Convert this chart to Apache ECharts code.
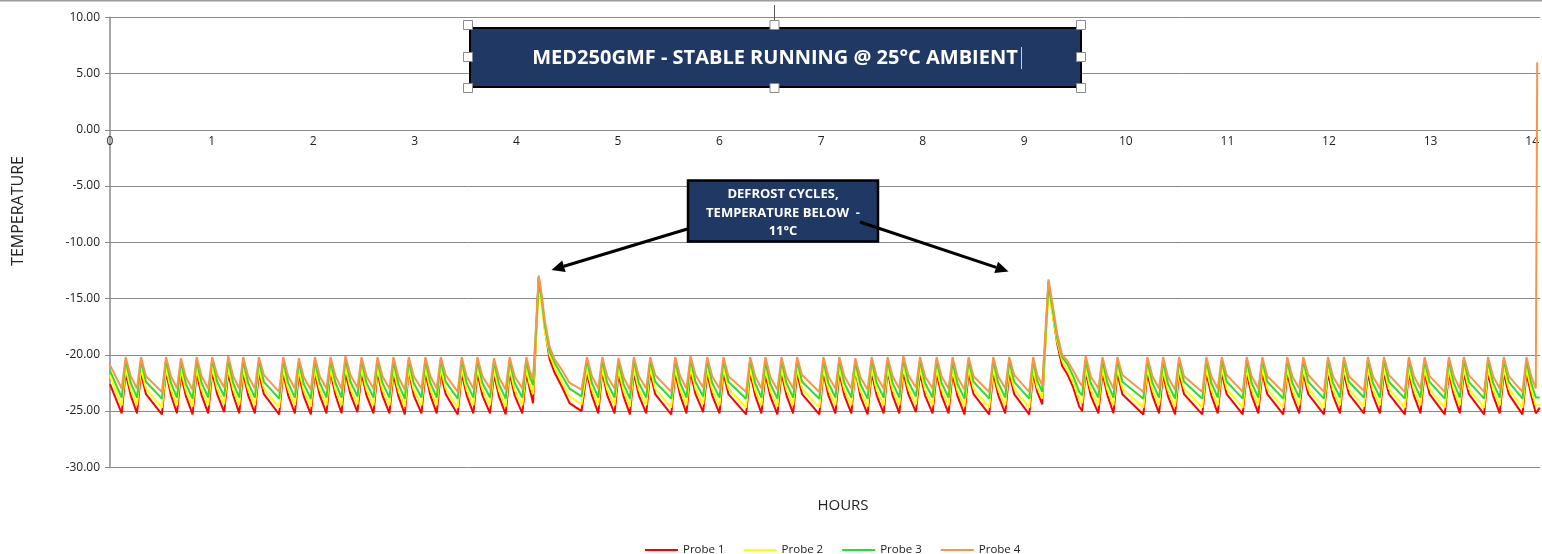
<!DOCTYPE html>
<html>
<head>
<meta charset="utf-8">
<script src="https://cdn.jsdelivr.net/npm/echarts@6/dist/echarts.min.js"></script>
<style>
html,body{margin:0;padding:0;background:#fff;}
#chart{width:1542px;height:554px;}
</style>
</head>
<body>
<div id="chart"></div>
<script>
// ---- DATA (hours and temperatures) ----
const seriesNames = ['Probe 1', 'Probe 2', 'Probe 3', 'Probe 4'];
const xTickLabels = [0,1,2,3,4,5,6,7,8,9,10,11,12,13,14];

const hours = [
0.000, 0.115,
0.154, 0.204, 0.266,
0.305, 0.354, 0.511,
0.551, 0.600, 0.659,
0.698, 0.748, 0.813,
0.853, 0.902, 0.967,
1.006, 1.055, 1.124,
1.164, 1.213, 1.272,
1.311, 1.360, 1.426,
1.466, 1.515, 1.665,
1.705, 1.754, 1.820,
1.859, 1.908, 1.977,
2.016, 2.065, 2.131,
2.171, 2.220, 2.279,
2.318, 2.367, 2.436,
2.476, 2.525, 2.594,
2.633, 2.682, 2.751,
2.790, 2.840, 2.902,
2.941, 2.990, 3.066,
3.105, 3.154, 3.216,
3.256, 3.305, 3.423,
3.462, 3.511, 3.577,
3.617, 3.666, 3.741,
3.780, 3.829, 3.895,
3.934, 3.983, 4.059,
4.099, 4.131, 4.165,
4.220, 4.249, 4.279, 4.328, 4.377, 4.446, 4.524, 4.642,
4.695, 4.744, 4.807,
4.846, 4.895, 4.967,
5.006, 5.056, 5.118,
5.157, 5.206, 5.279,
5.318, 5.367, 5.525,
5.564, 5.613, 5.675,
5.715, 5.764, 5.839,
5.879, 5.928, 6.000,
6.039, 6.088, 6.262,
6.302, 6.351, 6.413,
6.452, 6.501, 6.570,
6.610, 6.659, 6.725,
6.764, 6.813, 6.983,
7.023, 7.072, 7.141,
7.180, 7.229, 7.298,
7.337, 7.387, 7.458,
7.498, 7.547, 7.616,
7.655, 7.704, 7.770,
7.810, 7.859, 7.934,
7.974, 8.023, 8.098,
8.137, 8.186, 8.255,
8.294, 8.344, 8.412,
8.452, 8.501, 8.655,
8.695, 8.744, 8.813,
8.852, 8.901, 9.049,
9.088, 9.128, 9.177,
9.239, 9.275, 9.324, 9.373, 9.423, 9.482, 9.541, 9.570,
9.605, 9.654, 9.730,
9.770, 9.819, 9.878,
9.917, 9.966, 10.173,
10.212, 10.262, 10.327,
10.367, 10.416, 10.485,
10.524, 10.573, 10.753,
10.793, 10.842, 10.905,
10.944, 10.993, 11.151,
11.190, 11.239, 11.304,
11.344, 11.393, 11.550,
11.589, 11.639, 11.707,
11.747, 11.796, 11.950,
11.990, 12.039, 12.108,
12.147, 12.196, 12.344,
12.383, 12.432, 12.501,
12.541, 12.590, 12.747,
12.786, 12.836, 12.901,
12.941, 12.990, 13.140,
13.180, 13.229, 13.288,
13.327, 13.377, 13.527,
13.566, 13.616, 13.681,
13.721, 13.770, 13.905,
13.944, 13.991, 14.036, 14.050, 14.075
];

const probe1 = [
-22.6, -25.2,
-21.6, -23.6, -25.2,
-21.6, -23.5, -25.3,
-21.5, -23.6, -25.2,
-21.7, -23.7, -25.3,
-21.6, -23.6, -25.2,
-21.5, -23.5, -25.1,
-21.6, -23.6, -25.2,
-21.6, -23.6, -25.2,
-21.6, -23.5, -25.3,
-21.6, -23.6, -25.2,
-21.7, -23.7, -25.3,
-21.6, -23.6, -25.2,
-21.5, -23.6, -25.2,
-21.6, -23.5, -25.1,
-21.6, -23.6, -25.2,
-21.5, -23.6, -25.2,
-21.7, -23.7, -25.3,
-21.4, -23.6, -25.2,
-21.6, -23.6, -25.2,
-21.6, -23.5, -25.3,
-21.6, -23.6, -25.2,
-21.6, -23.6, -25.2,
-21.7, -23.7, -25.3,
-21.6, -23.6, -25.2,
-21.6, -23.0, -24.3,
-13.1, -15.0, -17.6, -20.4, -21.6, -22.8, -24.3, -25.0,
-21.6, -23.6, -25.2,
-21.5, -23.6, -25.2,
-21.7, -23.7, -25.3,
-21.6, -23.6, -25.2,
-21.6, -23.5, -25.3,
-21.6, -23.6, -25.2,
-21.5, -23.5, -25.1,
-21.6, -23.6, -25.2,
-21.6, -23.5, -25.3,
-21.6, -23.6, -25.2,
-21.7, -23.7, -25.3,
-21.6, -23.6, -25.2,
-21.6, -23.5, -25.3,
-21.6, -23.6, -25.2,
-21.6, -23.6, -25.2,
-21.3, -23.7, -25.3,
-21.6, -23.6, -25.2,
-21.4, -23.6, -25.2,
-21.5, -23.5, -25.1,
-21.6, -23.6, -25.2,
-21.6, -23.6, -25.2,
-21.7, -23.7, -25.3,
-21.6, -23.5, -25.3,
-21.6, -23.6, -25.2,
-21.6, -23.5, -25.3,
-21.6, -23.3, -24.4,
-13.5, -16.0, -19.0, -21.0, -21.7, -22.9, -24.6, -25.0,
-21.5, -23.6, -25.2,
-21.6, -23.6, -25.2,
-21.6, -23.5, -25.3,
-21.6, -23.6, -25.2,
-21.7, -23.7, -25.3,
-21.6, -23.5, -25.3,
-21.6, -23.6, -25.2,
-21.6, -23.5, -25.3,
-21.6, -23.6, -25.2,
-21.6, -23.5, -25.3,
-21.6, -23.6, -25.2,
-21.6, -23.5, -25.3,
-21.6, -23.6, -25.2,
-21.6, -23.5, -25.2,
-21.6, -23.6, -25.2,
-21.6, -23.5, -25.3,
-21.6, -23.6, -25.2,
-21.6, -23.5, -25.3,
-21.6, -23.6, -25.2,
-21.6, -23.5, -25.3,
-21.6, -23.6, -25.2,
-21.6, -23.5, -25.3,
-21.6, -23.6, -25.2, -25.2, -24.7
];

const probe2 = [
-21.8, -24.5,
-21.2, -23.1, -24.5,
-21.2, -23.0, -24.7,
-21.2, -23.1, -24.5,
-21.3, -23.2, -24.6,
-21.2, -23.1, -24.5,
-21.1, -23.0, -24.4,
-21.2, -23.1, -24.5,
-21.2, -23.1, -24.5,
-21.2, -23.0, -24.7,
-21.2, -23.1, -24.5,
-21.3, -23.2, -24.6,
-21.2, -23.1, -24.5,
-21.2, -23.1, -24.5,
-21.1, -23.0, -24.4,
-21.2, -23.1, -24.5,
-21.2, -23.1, -24.5,
-21.3, -23.2, -24.6,
-21.2, -23.1, -24.5,
-21.2, -23.1, -24.5,
-21.2, -23.0, -24.7,
-21.2, -23.1, -24.5,
-21.2, -23.1, -24.5,
-21.3, -23.2, -24.6,
-21.2, -23.1, -24.5,
-21.2, -22.6, -23.5,
-14.1, -15.5, -17.8, -20.0, -21.1, -22.3, -23.7, -24.4,
-21.2, -23.1, -24.5,
-21.2, -23.1, -24.5,
-21.3, -23.2, -24.6,
-21.2, -23.1, -24.5,
-21.2, -23.0, -24.7,
-21.2, -23.1, -24.5,
-21.1, -23.0, -24.4,
-21.2, -23.1, -24.5,
-21.2, -23.0, -24.7,
-21.2, -23.1, -24.5,
-21.3, -23.2, -24.6,
-21.2, -23.1, -24.5,
-21.2, -23.0, -24.7,
-21.2, -23.1, -24.5,
-21.2, -23.1, -24.5,
-21.3, -23.2, -24.6,
-21.2, -23.1, -24.5,
-21.2, -23.1, -24.5,
-21.1, -23.0, -24.4,
-21.2, -23.1, -24.5,
-21.2, -23.1, -24.5,
-21.3, -23.2, -24.6,
-21.2, -23.0, -24.7,
-21.2, -23.1, -24.5,
-21.2, -23.0, -24.7,
-21.2, -22.9, -23.9,
-14.5, -16.2, -18.8, -20.5, -21.3, -22.4, -23.9, -24.3,
-21.2, -23.1, -24.5,
-21.2, -23.1, -24.5,
-21.2, -23.0, -24.7,
-21.2, -23.1, -24.5,
-21.3, -23.2, -24.6,
-21.2, -23.0, -24.7,
-21.2, -23.1, -24.5,
-21.2, -23.0, -24.7,
-21.2, -23.1, -24.5,
-21.2, -23.0, -24.7,
-21.2, -23.1, -24.5,
-21.2, -23.0, -24.7,
-21.2, -23.1, -24.5,
-21.2, -23.0, -24.6,
-21.2, -23.1, -24.5,
-21.2, -23.0, -24.7,
-21.2, -23.1, -24.5,
-21.2, -23.0, -24.7,
-21.2, -23.1, -24.5,
-21.2, -23.0, -24.7,
-21.2, -23.1, -24.5,
-21.2, -23.0, -24.7,
-21.2, -23.1, -24.5, -24.6, -24.4
];

const probe3 = [
-21.4, -23.8,
-20.5, -22.5, -23.8,
-20.5, -22.4, -23.9,
-20.5, -22.5, -23.8,
-20.6, -22.6, -23.9,
-20.5, -22.5, -23.8,
-20.4, -22.4, -23.7,
-20.5, -22.5, -23.8,
-20.5, -22.5, -23.8,
-20.5, -22.4, -23.9,
-20.5, -22.5, -23.8,
-20.6, -22.6, -23.9,
-20.5, -22.5, -23.8,
-20.5, -22.5, -23.8,
-20.4, -22.4, -23.7,
-20.5, -22.5, -23.8,
-20.5, -22.5, -23.8,
-20.6, -22.6, -23.9,
-20.5, -22.5, -23.8,
-20.5, -22.5, -23.8,
-20.5, -22.4, -23.9,
-20.5, -22.5, -23.8,
-20.5, -22.5, -23.8,
-20.6, -22.6, -23.9,
-20.5, -22.5, -23.8,
-20.5, -21.9, -22.7,
-13.5, -15.0, -17.3, -19.7, -20.7, -21.8, -23.0, -23.7,
-20.5, -22.5, -23.8,
-20.5, -22.5, -23.8,
-20.6, -22.6, -23.9,
-20.5, -22.5, -23.8,
-20.5, -22.4, -23.9,
-20.5, -22.5, -23.8,
-20.4, -22.4, -23.7,
-20.5, -22.5, -23.8,
-20.5, -22.4, -23.9,
-20.5, -22.5, -23.8,
-20.6, -22.6, -23.9,
-20.5, -22.5, -23.8,
-20.5, -22.4, -23.9,
-20.5, -22.5, -23.8,
-20.5, -22.5, -23.8,
-20.6, -22.6, -23.9,
-20.5, -22.5, -23.8,
-20.5, -22.5, -23.8,
-20.4, -22.4, -23.7,
-20.5, -22.5, -23.8,
-20.5, -22.5, -23.8,
-20.6, -22.6, -23.9,
-20.5, -22.4, -23.9,
-20.5, -22.5, -23.8,
-20.5, -22.4, -23.9,
-20.5, -22.3, -23.3,
-13.8, -15.7, -18.5, -20.2, -20.8, -21.9, -23.3, -23.6,
-20.5, -22.5, -23.8,
-20.5, -22.5, -23.8,
-20.5, -22.4, -23.9,
-20.5, -22.5, -23.8,
-20.6, -22.6, -23.9,
-20.5, -22.4, -23.9,
-20.5, -22.5, -23.8,
-20.5, -22.4, -23.9,
-20.5, -22.5, -23.8,
-20.5, -22.4, -23.9,
-20.5, -22.5, -23.8,
-20.5, -22.4, -23.9,
-20.5, -22.5, -23.8,
-20.5, -22.4, -23.8,
-20.5, -22.5, -23.8,
-20.5, -22.4, -23.9,
-20.5, -22.5, -23.8,
-20.5, -22.4, -23.9,
-20.5, -22.5, -23.8,
-20.5, -22.4, -23.9,
-20.5, -22.5, -23.8,
-20.5, -22.4, -23.9,
-20.5, -22.5, -23.8, -23.9, -23.8
];

const probe4 = [
-20.9, -23.0,
-20.2, -21.9, -23.0,
-20.2, -21.9, -23.3,
-20.2, -21.9, -23.0,
-20.3, -22.0, -23.1,
-20.2, -21.9, -23.0,
-20.2, -21.8, -22.9,
-20.1, -21.9, -23.0,
-20.2, -21.9, -23.0,
-20.2, -21.8, -23.3,
-20.2, -21.9, -23.0,
-20.3, -22.0, -23.1,
-20.2, -21.9, -23.0,
-20.2, -21.9, -23.0,
-20.1, -21.8, -22.9,
-20.2, -21.9, -23.0,
-20.2, -21.9, -23.0,
-20.2, -22.0, -23.1,
-20.2, -21.9, -23.0,
-20.2, -21.9, -23.0,
-20.2, -21.8, -23.3,
-20.2, -21.9, -23.0,
-20.2, -21.9, -23.0,
-20.3, -22.0, -23.1,
-20.2, -21.9, -23.0,
-20.2, -21.4, -22.2,
-12.95, -14.6, -16.9, -19.3, -20.4, -21.3, -22.5, -23.1,
-20.2, -21.9, -23.0,
-20.2, -21.9, -23.0,
-20.3, -22.0, -23.1,
-20.2, -21.9, -23.0,
-20.2, -21.8, -23.3,
-20.2, -21.9, -23.0,
-20.1, -21.8, -22.9,
-20.2, -21.9, -23.0,
-20.2, -21.9, -23.3,
-20.2, -21.9, -23.0,
-20.2, -22.0, -23.1,
-20.2, -21.9, -23.0,
-20.2, -21.8, -23.3,
-20.2, -21.9, -23.0,
-20.2, -21.9, -23.0,
-20.3, -22.0, -23.1,
-20.2, -21.9, -23.0,
-20.2, -21.9, -23.0,
-20.1, -21.8, -22.9,
-20.2, -21.9, -23.0,
-20.2, -21.9, -23.0,
-20.2, -22.0, -23.1,
-20.2, -21.9, -23.3,
-20.2, -21.9, -23.0,
-20.2, -21.8, -23.3,
-20.2, -21.8, -22.7,
-13.3, -15.3, -18.1, -20.0, -20.5, -21.4, -22.4, -22.8,
-20.1, -21.9, -23.0,
-20.2, -21.9, -23.0,
-20.2, -21.8, -23.3,
-20.2, -21.9, -23.0,
-20.2, -22.0, -23.1,
-20.2, -21.9, -23.3,
-20.2, -21.9, -23.0,
-20.2, -21.8, -23.3,
-20.2, -21.9, -23.0,
-20.2, -21.9, -23.3,
-20.2, -21.9, -23.0,
-20.2, -21.8, -23.3,
-20.2, -21.9, -23.0,
-20.2, -21.9, -23.2,
-20.2, -21.9, -23.0,
-20.2, -21.8, -23.3,
-20.2, -21.9, -23.0,
-20.2, -21.9, -23.3,
-20.2, -21.9, -23.0,
-20.2, -21.8, -23.3,
-20.2, -21.9, -23.0,
-20.2, -21.9, -23.3,
-20.2, -21.9, -23.0, 6.0, null
];

const seriesValues = [probe1, probe2, probe3, probe4];
const seriesColors = ['#ff0000', '#ffff00', '#2edc2e', '#f79646'];

// ---- CHART ----
const FONT = '"Open Sans", "Noto Sans", sans-serif';
const chart = echarts.init(document.getElementById('chart'), null, {renderer: 'canvas'});

const GRID_TOP = 17.3, GRID_BOTTOM = 86.7, CHART_H = 554;
const Y_MIN = -30, Y_MAX = 10;
// distance from the bottom of the plot up to the 0 line (x axis crosses at 0)
const plotH = CHART_H - GRID_TOP - GRID_BOTTOM;
const zeroOffset = -plotH * (0 - Y_MIN) / (Y_MAX - Y_MIN);

function pairs(vals) {
  const out = [];
  for (let i = 0; i < hours.length; i++) {
    if (vals[i] !== null && vals[i] !== undefined) out.push([hours[i], vals[i]]);
  }
  return out;
}

// Annotation arrows (pixel geometry of the drawn callout)
function arrow(x1, y1, x2, y2, len, half, z) {
  const dx = x2 - x1, dy = y2 - y1, L = Math.hypot(dx, dy);
  const ux = dx / L, uy = dy / L;
  const bx = x2 - ux * len, by = y2 - uy * len;
  const px = -uy, py = ux;
  return [
    {type: 'line', shape: {x1: x1, y1: y1, x2: bx, y2: by}, style: {stroke: '#000', lineWidth: 3}, z: z},
    {type: 'polygon', shape: {points: [[x2, y2], [bx + px * half, by + py * half], [bx - px * half, by - py * half]]}, style: {fill: '#000'}, z: z}
  ];
}

const handlePts = [[468,25],[774.5,25],[1081,25],[468,57],[1081,57],[468,88],[774.5,88],[1081,88]];
const handles = handlePts.map(p => ({
  type: 'rect', shape: {x: p[0] - 4.5, y: p[1] - 4.5, width: 9, height: 9},
  style: {fill: '#ffffff', stroke: '#8a8a8a', lineWidth: 1}, z: 103
}));

const graphics = [
  {type: 'line', shape: {x1: 0, y1: 0.75, x2: 1542, y2: 0.75}, style: {stroke: '#9a9a9a', lineWidth: 1.5}, z: 100},
  {type: 'line', shape: {x1: 774.5, y1: 5, x2: 774.5, y2: 21}, style: {stroke: '#555', lineWidth: 1}, z: 100},
  {type: 'rect', shape: {x: 470, y: 28, width: 611, height: 59}, style: {fill: '#1f3864', stroke: '#000', lineWidth: 2}, z: 101},
  {type: 'text', x: 775, y: 58, style: {text: 'MED250GMF - STABLE RUNNING @ 25°C AMBIENT', fill: '#ffffff', font: 'bold 20px ' + FONT, align: 'center', verticalAlign: 'middle'}, z: 102},
  {type: 'line', shape: {x1: 1021.5, y1: 47, x2: 1021.5, y2: 69}, style: {stroke: '#cfcfcf', lineWidth: 1}, z: 102},
  ...handles,
  ...arrow(689, 228.5, 551.5, 270, 13, 6, 100),
  {type: 'rect', shape: {x: 688, y: 180.5, width: 190, height: 61}, style: {fill: '#1f3864', stroke: '#000', lineWidth: 2.5}, z: 101},
  {type: 'text', x: 783, y: 194.5, style: {text: 'DEFROST CYCLES,', fill: '#fff', font: 'bold 13px ' + FONT, align: 'center', verticalAlign: 'middle'}, z: 102},
  {type: 'text', x: 783, y: 213, style: {text: 'TEMPERATURE BELOW  -', fill: '#fff', font: 'bold 13px ' + FONT, align: 'center', verticalAlign: 'middle'}, z: 102},
  {type: 'text', x: 783, y: 231, style: {text: '11°C', fill: '#fff', font: 'bold 13px ' + FONT, align: 'center', verticalAlign: 'middle'}, z: 102},
  ...arrow(860, 222, 1008.5, 271.5, 13, 6, 104),
  {type: 'text', x: 843, y: 506, style: {text: 'HOURS', fill: '#222', font: '15px ' + FONT, align: 'center', verticalAlign: 'middle'}, z: 100},
  {type: 'text', x: 18, y: 211, rotation: Math.PI / 2, style: {text: 'TEMPERATURE', fill: '#222', font: '16px ' + FONT, align: 'center', verticalAlign: 'middle'}, z: 100}
];

const option = {
  animation: false,
  backgroundColor: '#ffffff',
  grid: {left: 110, right: 0, top: GRID_TOP, bottom: GRID_BOTTOM, containLabel: false},
  legend: {
    data: seriesNames,
    left: 640, top: 539,
    icon: 'rect', itemWidth: 33, itemHeight: 2, itemGap: 19,
    textStyle: {fontSize: 11.5, color: '#222', fontFamily: FONT}
  },
  xAxis: {
    type: 'value', min: 0, max: 14.08, interval: 1,
    position: 'bottom', offset: zeroOffset,
    axisLine: {show: true, onZero: false, lineStyle: {color: '#8a8a8a', width: 1}},
    axisTick: {show: false},
    splitLine: {show: false},
    axisLabel: {
      margin: 6, fontSize: 12, color: '#222', fontFamily: FONT,
      showMaxLabel: false,
      formatter: v => (xTickLabels.indexOf(Math.round(v * 1000) / 1000) >= 0 ? String(v) : '')
    }
  },
  yAxis: {
    type: 'value', min: Y_MIN, max: Y_MAX, interval: 5,
    axisLine: {show: true, onZero: false, lineStyle: {color: '#8a8a8a', width: 1.5}},
    axisTick: {show: true, length: 5, lineStyle: {color: '#8a8a8a', width: 1}},
    splitLine: {show: true, lineStyle: {color: '#8a8a8a', width: 1}},
    axisLabel: {margin: 10, fontSize: 12, color: '#222', fontFamily: FONT, formatter: v => v.toFixed(2)}
  },
  series: seriesNames.map((name, i) => ({
    name: name,
    type: 'line',
    data: pairs(seriesValues[i]),
    showSymbol: false,
    symbol: 'none',
    connectNulls: false,
    lineStyle: {width: 2, color: seriesColors[i]},
    itemStyle: {color: seriesColors[i]},
    z: 2 + i
  })),
  graphic: {elements: graphics}
};

chart.setOption(option);
</script>
</body>
</html>
